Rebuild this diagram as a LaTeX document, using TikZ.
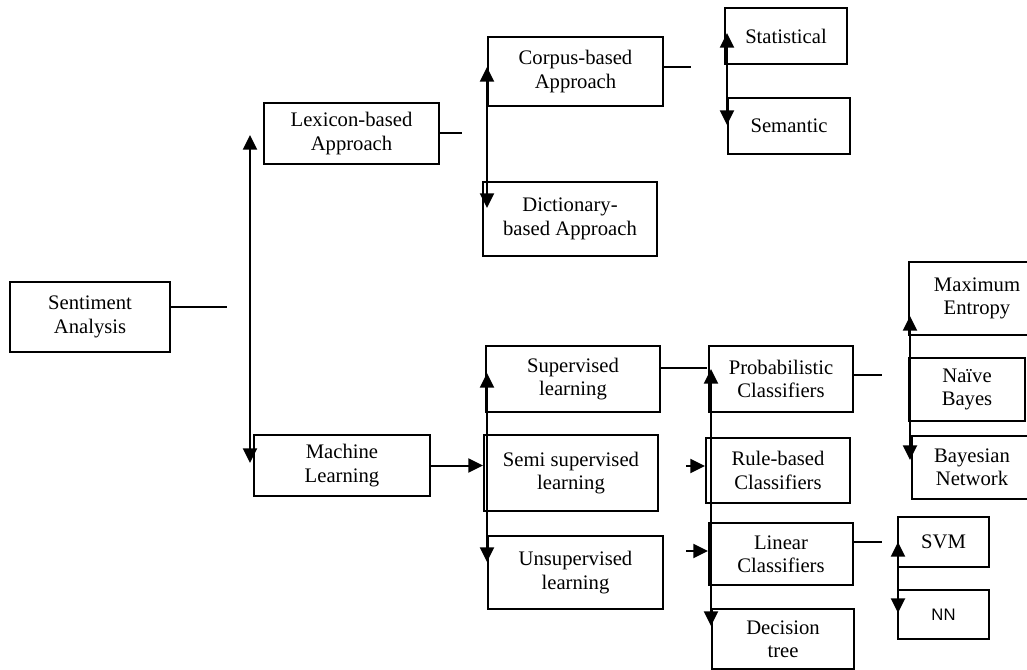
\documentclass[tikz,border=0pt]{standalone}
\usepackage{fontspec}
\setmainfont{Liberation Serif}
\newfontfamily\nnfont{Liberation Sans}
\usetikzlibrary{arrows.meta,calc}
\tikzset{
  box/.style={draw, line width=1.5pt, inner sep=0pt, align=center,
    font=\fontsize{15.5}{17.5}\selectfont},
  conn/.style={line width=1.4pt},
  bus/.style={line width=1.7pt, {Triangle[length=11pt,width=10.5pt]}-{Triangle[length=11pt,width=10.5pt]}},
  arr/.style={line width=1.5pt, -{Triangle[length=11pt,width=10.5pt]}},
}
\begin{document}
\begin{tikzpicture}[x=0.75pt,y=-0.75pt]
\clip (0,0) rectangle (1027,670);
\useasboundingbox (0,0) rectangle (1027,670);
% nodes
\node[box, minimum width=120pt, minimum height=52.5pt] (sa) at (90,317) {Sentiment\\Analysis};
\node[box, minimum width=131.25pt, minimum height=45.75pt] (lex) at (351.5,133.5) {Lexicon-based\\Approach};
\node[box, minimum width=132pt, minimum height=45.75pt] (ml) at (342,465.5) {Machine\\Learning};
\node[box, minimum width=131.25pt, minimum height=51.75pt] (corpus) at (575.5,71.5) {Corpus-based\\Approach};
\node[box, minimum width=130.5pt, minimum height=55.5pt] (dict) at (570,219) {Dictionary-\\based Approach};
\node[box, minimum width=91.5pt, minimum height=42pt] (stat) at (786,36) {Statistical};
\node[box, minimum width=91.5pt, minimum height=42pt] (sem) at (789,126) {Semantic};
\node[box, minimum width=130.5pt, minimum height=49.5pt] (sup) at (573,379) {Supervised\\learning};
\node[box, minimum width=130.5pt, minimum height=57pt] (semi) at (571,473) {Semi supervised\\learning};
\node[box, minimum width=131.25pt, minimum height=54.75pt] (unsup) at (575.5,572.5) {Unsupervised\\learning};
\node[box, minimum width=108pt, minimum height=49.5pt] (prob) at (781,379) {Probabilistic\\Classifiers};
\node[box, minimum width=108pt, minimum height=48.75pt] (rule) at (778,470.5) {Rule-based\\Classifiers};
\node[box, minimum width=108pt, minimum height=46.5pt] (lin) at (781,554) {Linear\\Classifiers};
\node[box, minimum width=106.5pt, minimum height=45pt] (dt) at (783,639) {Decision\\tree};
\node[box, minimum width=102pt, minimum height=54.75pt] (maxent) at (977,298.5) {Maximum\\Entropy};
\node[box, minimum width=87pt, minimum height=47.25pt] (nb) at (967,389.5) {Naïve\\Bayes};
\node[box, minimum width=90pt, minimum height=47.25pt] (bn) at (972,467.5) {Bayesian\\Network};
\node[box, minimum width=68.25pt, minimum height=37.5pt] (svm) at (943.5,542) {SVM};
\node[box, minimum width=68.25pt, minimum height=36.75pt, font=\nnfont\fontsize{12.5}{14}\selectfont] (nn) at (943.5,614.5) {NN};
% coordinates
\coordinate (saend) at (227,307);
\coordinate (b1t) at (250,135);
\coordinate (b1b) at (250,463);
\coordinate (lexend) at (462,133);
\coordinate (b2t) at (487,67);
\coordinate (b2b) at (487,208);
\coordinate (corpend) at (691,67);
\coordinate (b3t) at (727,33);
\coordinate (b3b) at (727,125);
\coordinate (b4t) at (487,373);
\coordinate (b4b) at (487,562);
\coordinate (supend) at (707,368);
\coordinate (b5t) at (711,369);
\coordinate (b5b) at (711,626);
\coordinate (rulest) at (686,466);
\coordinate (linst) at (686,551);
\coordinate (probend) at (882,375);
\coordinate (b6t) at (910,316);
\coordinate (b6b) at (910,460);
\coordinate (linend) at (882,542);
\coordinate (b7t) at (898,542);
\coordinate (b7b) at (898,613);
% connectors
\draw[conn] (sa.east |- saend) -- (saend);
\draw[bus] (b1t) -- (b1b);
\draw[conn] (lex.east |- lexend) -- (lexend);
\draw[bus] (b2t) -- (b2b);
\draw[conn] (corpus.east |- corpend) -- (corpend);
\draw[bus] (b3t) -- (b3b);
\draw[arr] (ml.east) -- (semi.west |- ml.east);
\draw[bus] (b4t) -- (b4b);
\draw[conn] (sup.east |- supend) -- (supend);
\draw[bus] (b5t) -- (b5b);
\draw[arr] (rulest) -- (rule.west |- rulest);
\draw[arr] (linst) -- (lin.west |- linst);
\draw[conn] (prob.east |- probend) -- (probend);
\draw[bus] (b6t) -- (b6b);
\draw[conn] (lin.east |- linend) -- (linend);
\draw[bus] (b7t) -- (b7b);
\end{tikzpicture}
\end{document}
